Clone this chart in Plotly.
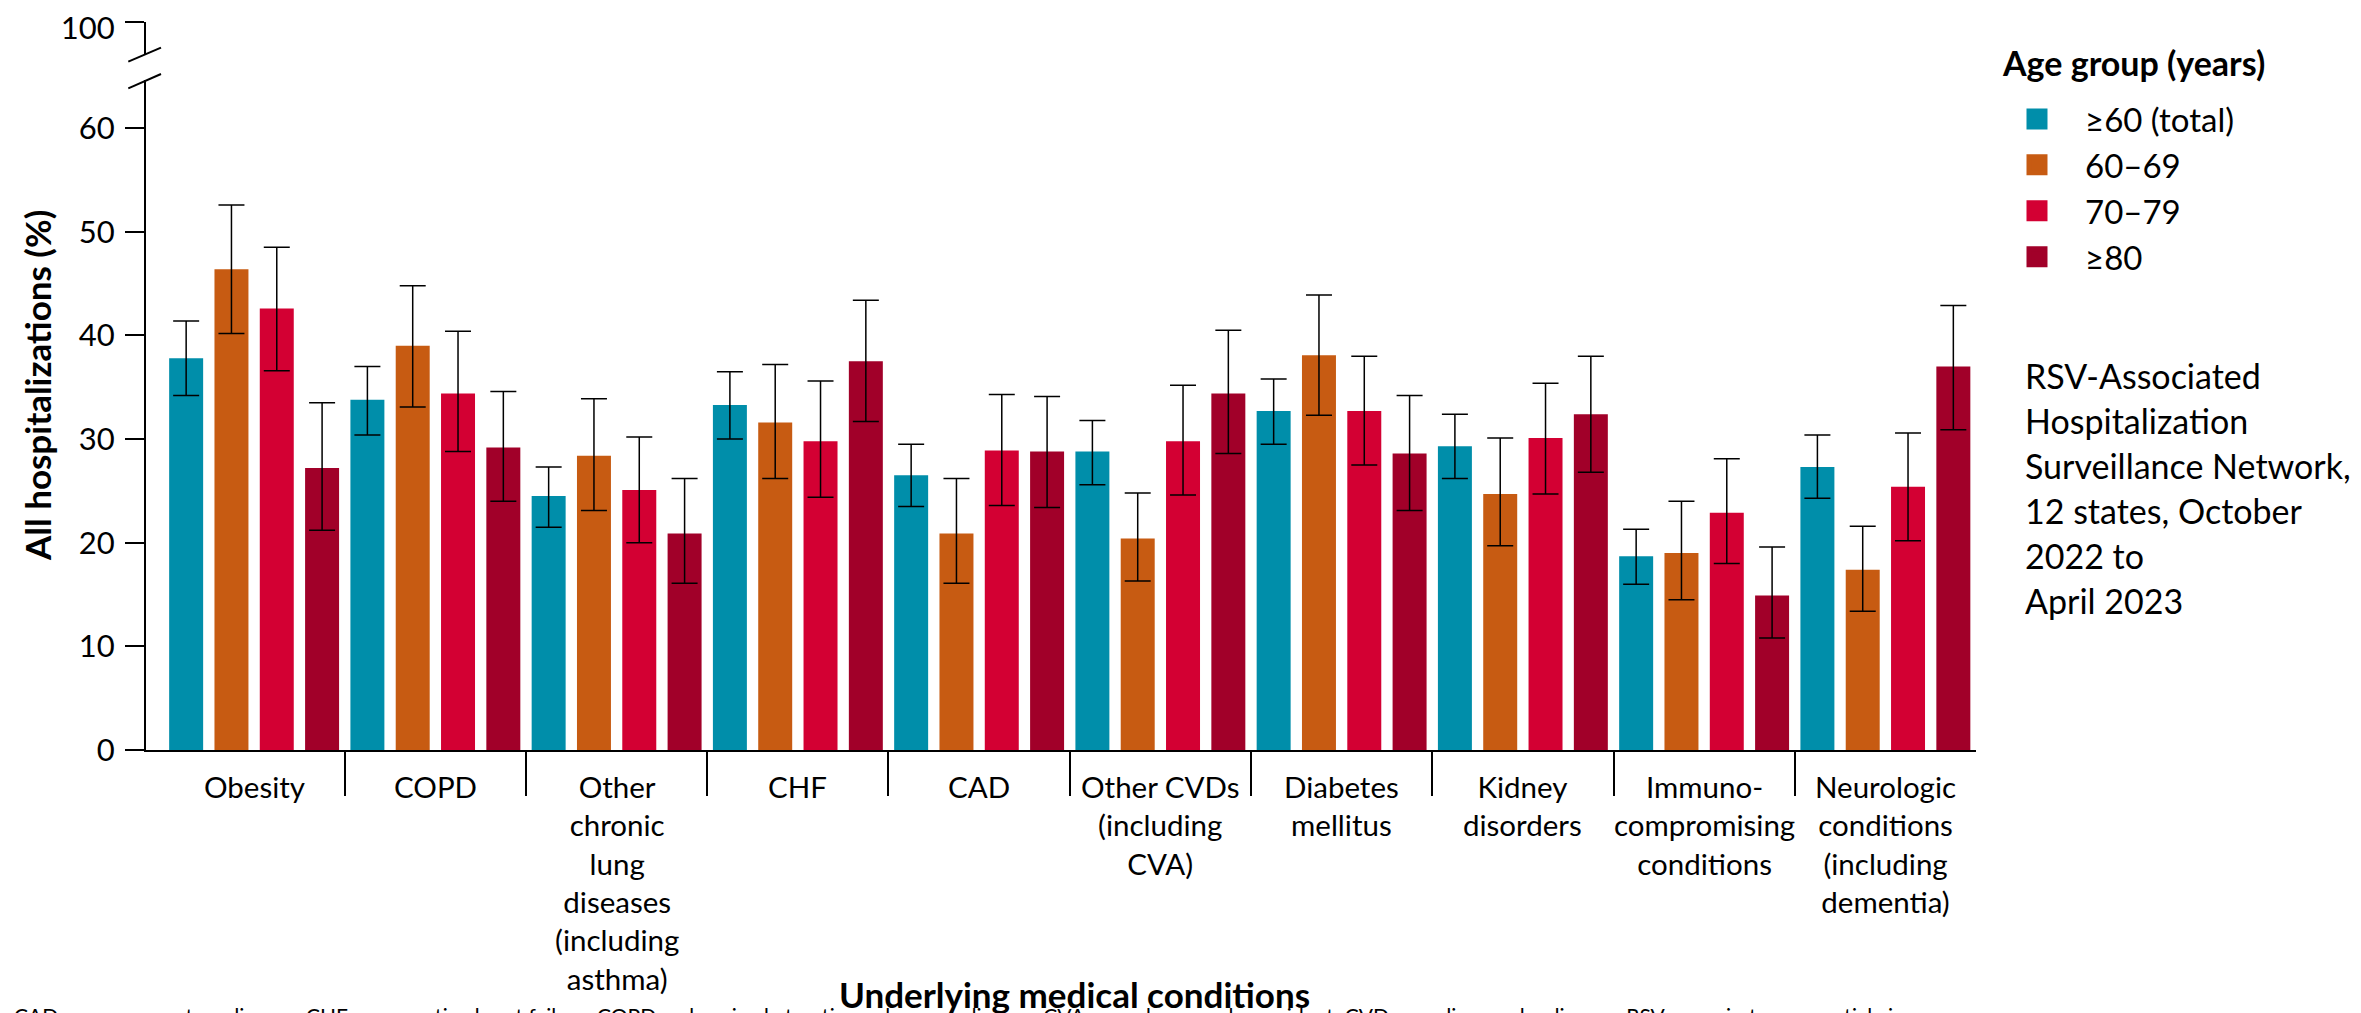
import plotly.graph_objects as go

# ---------------- data ----------------
categories = ["Obesity", "COPD", "Other chronic lung diseases (including asthma)", "CHF", "CAD",
              "Other CVDs (including CVA)", "Diabetes mellitus", "Kidney disorders",
              "Immunocompromising conditions", "Neurologic conditions (including dementia)"]
category_labels = ["Obesity", "COPD", "Other<br>chronic<br>lung<br>diseases<br>(including<br>asthma)",
                   "CHF", "CAD", "Other CVDs<br>(including<br>CVA)", "Diabetes<br>mellitus",
                   "Kidney<br>disorders", "Immuno-<br>compromising<br>conditions",
                   "Neurologic<br>conditions<br>(including<br>dementia)"]
series_names = ["≥60 (total)", "60–69", "70–79", "≥80"]

age_60_total = [37.8, 33.8, 24.5, 33.3, 26.5, 28.8, 32.7, 29.3, 18.7, 27.3]
age_60_total_lo = [34.2, 30.4, 21.5, 30.0, 23.5, 25.6, 29.5, 26.2, 16.0, 24.3]
age_60_total_hi = [41.4, 37.0, 27.3, 36.5, 29.5, 31.8, 35.8, 32.4, 21.3, 30.4]

age_60_69 = [46.4, 39.0, 28.4, 31.6, 20.9, 20.4, 38.1, 24.7, 19.0, 17.4]
age_60_69_lo = [40.2, 33.1, 23.1, 26.2, 16.1, 16.3, 32.3, 19.7, 14.5, 13.4]
age_60_69_hi = [52.6, 44.8, 33.9, 37.2, 26.2, 24.8, 43.9, 30.1, 24.0, 21.6]

age_70_79 = [42.6, 34.4, 25.1, 29.8, 28.9, 29.8, 32.7, 30.1, 22.9, 25.4]
age_70_79_lo = [36.6, 28.8, 20.0, 24.4, 23.6, 24.6, 27.5, 24.7, 18.0, 20.2]
age_70_79_hi = [48.5, 40.4, 30.2, 35.6, 34.3, 35.2, 38.0, 35.4, 28.1, 30.6]

age_80 = [27.2, 29.2, 20.9, 37.5, 28.8, 34.4, 28.6, 32.4, 14.9, 37.0]
age_80_lo = [21.2, 24.0, 16.1, 31.7, 23.4, 28.6, 23.1, 26.8, 10.8, 30.9]
age_80_hi = [33.5, 34.6, 26.2, 43.4, 34.1, 40.5, 34.2, 38.0, 19.6, 42.9]

y_ticks_lower = [0, 10, 20, 30, 40, 50, 60]
y_ticks_upper = [100]

source_lines = ["RSV-Associated", "Hospitalization", "Surveillance Network,",
                "12 states, October", "2022 to", "April 2023"]
footnote = ("CAD = coronary artery disease; CHF = congestive heart failure; COPD = chronic obstructive "
            "pulmonary disease; CVA = cerebrovascular accident; CVD = cardiovascular disease; "
            "RSV = respiratory syncytial virus.")

colors = ["#008EAA", "#C75B12", "#D30033", "#A10029"]

FONT = "Lato"
OFF = 8                      # page body margin offset (screen px)
W, H = 2361 - OFF, 1013 - OFF
ML, MT = 146 - OFF, 22 - OFF
PLOT_RIGHT, PLOT_BOTTOM = 1976.5 - OFF, 750 - OFF
MR, MB = W - PLOT_RIGHT, H - PLOT_BOTTOM
PW = PLOT_RIGHT - ML
PH = PLOT_BOTTOM - MT


def px_x(s):  # screen pixel -> paper x
    return (s - OFF - ML) / PW


def px_y(s):  # screen pixel -> paper y
    return (PLOT_BOTTOM - (s - OFF)) / PH


series = [
    (age_60_total, age_60_total_lo, age_60_total_hi),
    (age_60_69, age_60_69_lo, age_60_69_hi),
    (age_70_79, age_70_79_lo, age_70_79_hi),
    (age_80, age_80_lo, age_80_hi),
]

fig = go.Figure()
for name, color, (vals, lo, hi) in zip(series_names, colors, series):
    fig.add_trace(go.Bar(
        x=categories, y=vals, name=name, marker=dict(color=color, line=dict(width=0)),
        showlegend=False,
        error_y=dict(type="data", symmetric=False,
                     array=[h - v for v, h in zip(vals, hi)],
                     arrayminus=[v - l for v, l in zip(vals, lo)],
                     color="black", thickness=1.5, width=13),
    ))

# legend entries (square swatches)
for name, color in zip(series_names, colors):
    fig.add_trace(go.Scatter(
        x=[None], y=[None], mode="markers", name=name, legendgroup=name,
        marker=dict(symbol="square", size=16, color=color, line=dict(color=color, width=5)),
        hoverinfo="skip",
    ))

# helpers so the secondary axes are drawn
fig.add_trace(go.Scatter(x=[None], y=[None], xaxis="x2", yaxis="y", showlegend=False, hoverinfo="skip"))
fig.add_trace(go.Scatter(x=[None], y=[None], xaxis="x", yaxis="y2", showlegend=False, hoverinfo="skip"))

xr = [-0.5965, 9.5]
axis_style = dict(showline=True, linecolor="black", linewidth=2, ticks="outside", ticklen=19,
                  tickwidth=2, tickcolor="black", showgrid=False, zeroline=False,
                  ticklabelstandoff=4, ticklabeloverflow="allow",
                  tickfont=dict(family=FONT, size=31, color="black"))

fig.update_layout(
    width=W, height=H,
    margin=dict(l=ML, r=MR, t=MT, b=MB, autoexpand=False),
    paper_bgcolor="white", plot_bgcolor="white",
    barmode="group", bargap=0, bargroupgap=0.25,
    font=dict(family=FONT, color="black"),
    xaxis=dict(type="category", range=xr, showline=True, linecolor="black", linewidth=2,
               ticks="", showticklabels=False, showgrid=False, zeroline=False),
    xaxis2=dict(overlaying="x", anchor="y", side="bottom", range=xr,
                tickmode="array", tickvals=[i + 0.5 for i in range(len(categories) - 1)],
                ticks="outside", ticklen=45, tickwidth=2, tickcolor="black",
                showticklabels=False, showline=False, showgrid=False, zeroline=False),
    yaxis=dict(domain=[0, px_y(80)], range=[0, 64.65], tickmode="array",
               tickvals=y_ticks_lower, **axis_style),
    yaxis2=dict(domain=[px_y(54), 1], range=[96, 100.01], anchor="x", tickmode="array",
                tickvals=y_ticks_upper, ticklabelshift=6, **axis_style),
    legend=dict(x=px_x(1989.5), y=px_y(91), xanchor="left", yanchor="top",
                font=dict(family=FONT, size=33, color="black"), itemwidth=86,
                bgcolor="rgba(0,0,0,0)", tracegroupgap=0, itemclick=False),
    showlegend=True,
)

# axis break marks
for y0, y1 in [(61.7, 47.7), (88.3, 74.0)]:
    fig.add_shape(type="line", xref="paper", yref="paper",
                  x0=px_x(128.3), y0=px_y(y0), x1=px_x(161), y1=px_y(y1),
                  line=dict(color="black", width=2))

# category labels
for cat, lab in zip(categories, category_labels):
    fig.add_annotation(x=cat, xref="x", y=px_y(767), yref="paper", text=lab, showarrow=False,
                       xanchor="center", yanchor="top", align="center",
                       font=dict(family=FONT, size=29.5, color="black"))

# axis titles
fig.add_annotation(x=px_x(37), y=px_y(386), xref="paper", yref="paper", text="<b>All hospitalizations (%)</b>",
                   textangle=-90, showarrow=False, xanchor="center", yanchor="middle",
                   font=dict(family=FONT, size=35, color="black"))
fig.add_annotation(x=px_x(1075), y=px_y(994), xref="paper", yref="paper",
                   text="<b>Underlying medical conditions</b>", showarrow=False,
                   xanchor="center", yanchor="middle", font=dict(family=FONT, size=35, color="black"))

# legend title
fig.add_annotation(x=px_x(2001), y=px_y(62), xref="paper", yref="paper", text="<b>Age group (years)</b>",
                   showarrow=False, xanchor="left", yanchor="middle",
                   font=dict(family=FONT, size=34, color="black"))

# source note
for i, line in enumerate(source_lines):
    fig.add_annotation(x=px_x(2024), y=px_y(375 + 45 * i), xref="paper", yref="paper",
                       text=line, showarrow=False, xanchor="left", yanchor="middle", align="left",
                       font=dict(family=FONT, size=34, color="black"))

# footnote (partly cut at the bottom edge, as in the source)
fig.add_annotation(x=px_x(12), y=px_y(1015), xref="paper", yref="paper",
                   text=footnote, showarrow=False, xanchor="left", yanchor="middle", align="left",
                   font=dict(family=FONT, size=21, color="black"))

fig.write_html("out.html")
